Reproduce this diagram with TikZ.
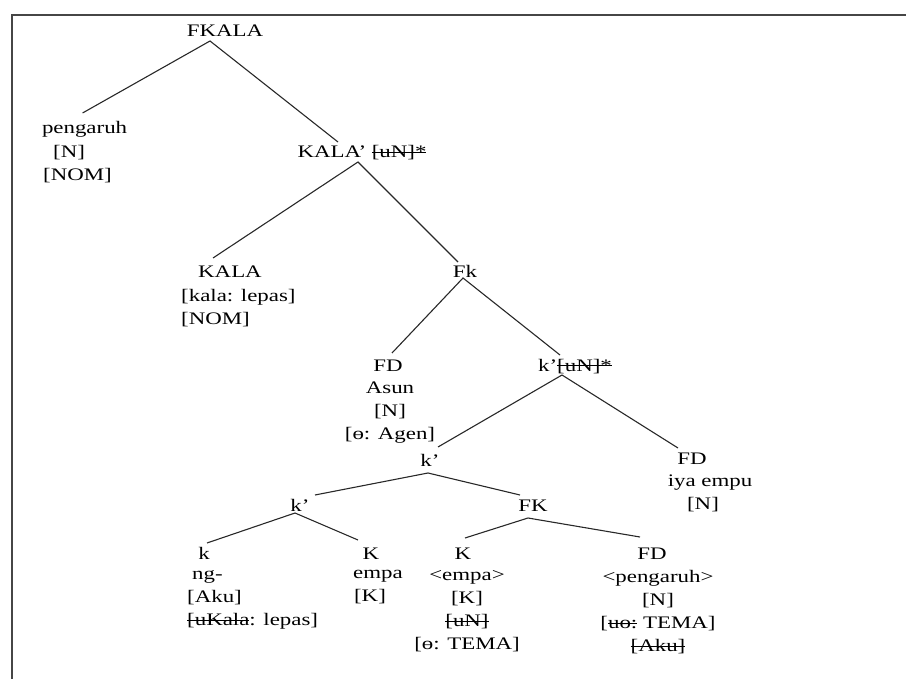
\documentclass[tikz,border=0pt]{standalone}
\usepackage{fontspec}
\setmainfont{Liberation Serif}[FakeStretch=1.3]
\usetikzlibrary{positioning}
\definecolor{treegray}{RGB}{40,40,40}
\definecolor{framegray}{RGB}{70,70,70}
\newsavebox\strkbox
\newcommand{\strk}[1]{\sbox\strkbox{#1}\rlap{\rule[0.28em]{\wd\strkbox}{0.7pt}}\usebox\strkbox}

\begin{document}
\begin{tikzpicture}[x=1pt, y=-1pt,
    lbl/.style={inner sep=0pt, outer xsep=0pt, outer ysep=4pt, text height=12pt, text depth=0pt,
                anchor=base, font=\fontsize{17.6}{23}\selectfont},
    feat/.style={inner sep=0pt, anchor=north, align=center, execute at begin node=\strut,
                 font=\fontsize{17.6}{23}\selectfont},
    branch/.style={draw=treegray, line width=1.1pt}]
  \useasboundingbox (0,0) rectangle (906,679);
  \draw[framegray, line width=1.4pt] (12,679) -- (12,15) -- (906,15);

  \node[lbl] (fkala) at (225,37) {FKALA};
  \node[lbl, anchor=base west] (pengaruh) at (42,134) {pengaruh};
  \node[feat, anchor=north west, align=left] (pengaruh-f) at (43,145) {\hspace*{10pt}[N]\\{}[NOM]};
  \node[lbl] (kalabar) at (362,158) {KALA’ \strk{[uN]*}};
  \node[lbl] (kala) at (230,278) {KALA};
  \node[feat, anchor=north west, align=left] (kala-f) at (181,289) {[kala: lepas]\\{}[NOM]};
  \node[lbl] (fk) at (465,278) {Fk};
  \node[lbl] (fdasun) at (388,371) {FD};
  \node[feat] (fdasun-f) at (390,382) {Asun\\{}[N]\\{}[ɵ: Agen]};
  \node[lbl] (kbar1) at (575,371) {k’\strk{[uN]*}};
  \node[lbl] (kbar2) at (430,466) {k’};
  \node[lbl] (fdiya) at (692,464) {FD};
  \node[feat] (fdiya-f) at (710,475) {iya empu\\{}[N]\hspace*{14pt}};
  \node[lbl] (kbar3) at (300,511) {k’};
  \node[lbl] (fkk) at (533,511) {FK};
  \node[lbl] (kk) at (204,559) {k};
  \node[feat, anchor=north west, align=left] (kk-f) at (187,570) {\hspace*{5pt}ng-\\{}[Aku]\\\strk{[uKala}: lepas]};
  \node[lbl] (kempa) at (371,559) {K};
  \node[feat] (kempa-f) at (374,570) {\hspace*{8pt}empa\\{}[K]\hspace*{8pt}};
  \node[lbl] (kempa2) at (463,559) {K};
  \node[feat] (kempa2-f) at (467,570) {<empa>\\{}[K]\\\strk{[uN]}\\{}[ɵ: TEMA]};
  \node[lbl] (fdpeng) at (652,559) {FD};
  \node[feat] (fdpeng-f) at (658,570) {<pengaruh>\\{}[N]\\{}[\strk{uɵ:} TEMA]\\\strk{[Aku]}};

  \draw[branch] ([xshift=-2pt,yshift=5pt]pengaruh.north) -- ([xshift=-15pt]fkala.south) -- ([xshift=-24pt]kalabar.north);
  \draw[branch] ([xshift=-17pt,yshift=4pt]kala.north) -- ([xshift=-4pt]kalabar.south) -- ([xshift=-7pt]fk.north);
  \draw[branch] ([xshift=4pt,yshift=2pt]fdasun.north) -- ([xshift=-2pt,yshift=4pt]fk.south) -- ([xshift=-15pt]kbar1.north);
  \draw[branch] ([xshift=8pt,yshift=3pt]kbar2.north) -- ([xshift=-13pt]kbar1.south) -- ([xshift=-14pt]fdiya.north);
  \draw[branch] ([xshift=15pt]kbar3.north) -- ([xshift=-2pt,yshift=-3pt]kbar2.south) -- ([xshift=-13pt]fkk.north);
  \draw[branch] ([xshift=3pt]kk.north) -- ([xshift=-5pt,yshift=2pt]kbar3.south) -- ([xshift=-13pt,yshift=3pt]kempa.north);
  \draw[branch] ([xshift=2pt,yshift=5pt]kempa2.north) -- ([xshift=-5pt,yshift=-3pt]fkk.south) -- ([xshift=-12pt,yshift=6pt]fdpeng.north);
\end{tikzpicture}
\end{document}
